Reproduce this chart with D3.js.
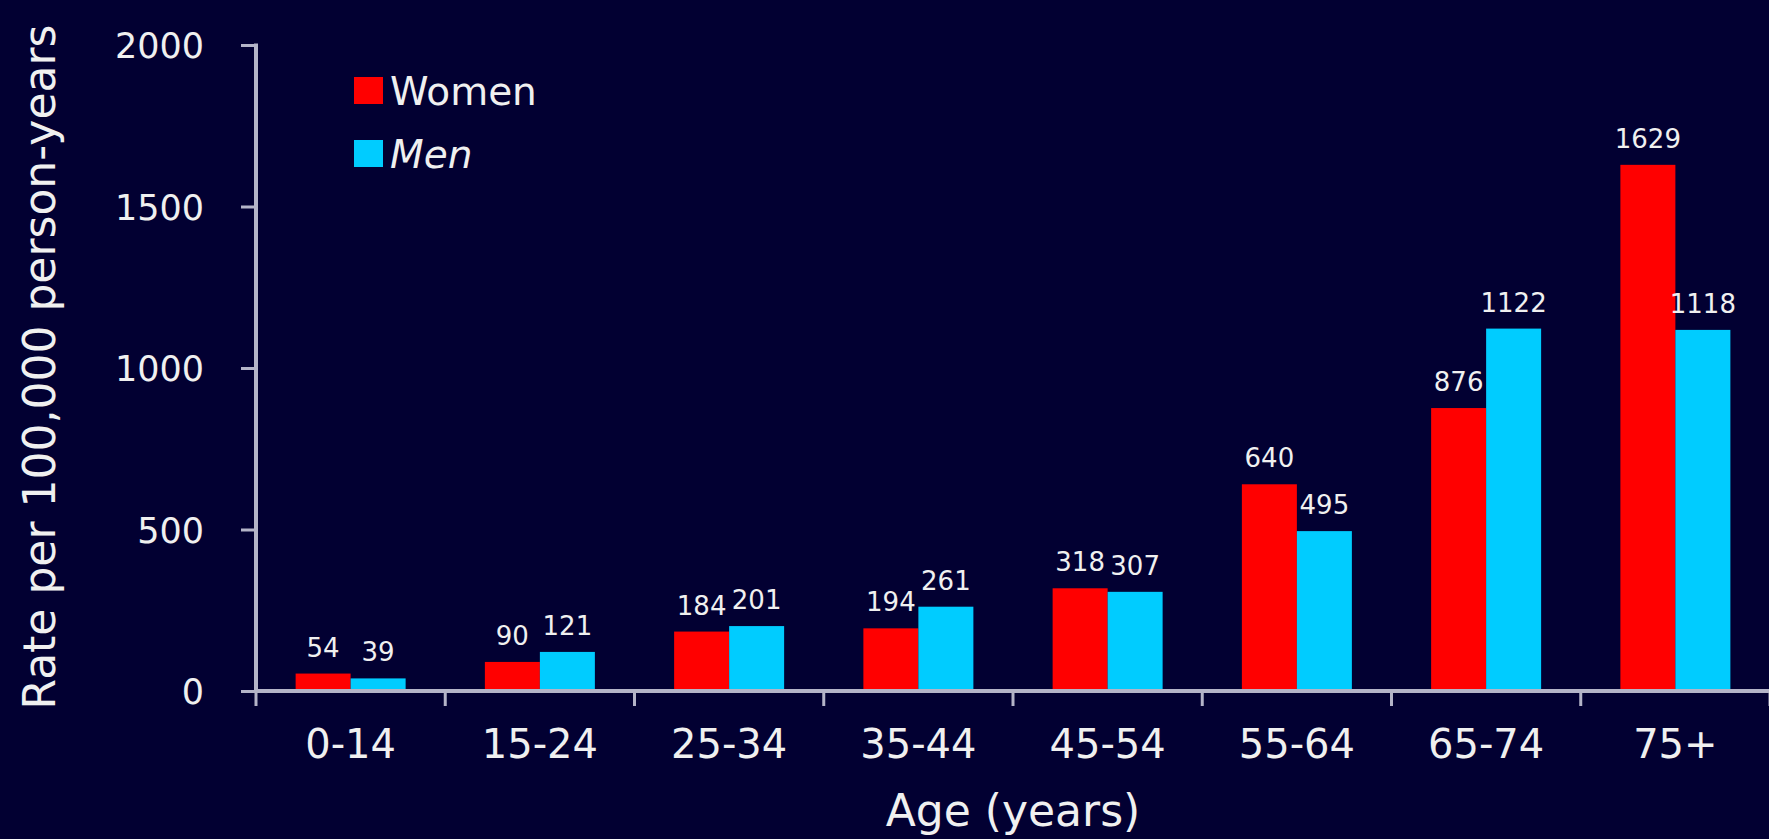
<!DOCTYPE html>
<html>
<head>
<meta charset="utf-8">
<script src="https://cdn.jsdelivr.net/npm/d3@7"></script>
<style>
  html, body { margin: 0; padding: 0; background: #020032; overflow: hidden; }
  svg { display: block; }
</style>
</head>
<body>
<svg id="chart" width="1769" height="839"></svg>
<script>
const categories = ["0-14", "15-24", "25-34", "35-44", "45-54", "55-64", "65-74", "75+"];
const women = [54, 90, 184, 194, 318, 640, 876, 1629];
const men = [39, 121, 201, 261, 307, 495, 1122, 1118];
const yTicks = [0, 500, 1000, 1500, 2000];
const seriesNames = ["Women", "Men"];
const seriesColors = ["#ff0000", "#00ccff"];

(function () {
  const W = 1769, H = 839;
  const svg = d3.select("#chart");
  svg.append("rect").attr("width", W).attr("height", H).attr("fill", "#020032");

  const mLeft = 256, mRight = 1770, mTop = 45, mBottom = 691;
  const axisColor = "#b4b4c8";
  const textColor = "#f0f0f0";
  const font = "'DejaVu Sans', Verdana, sans-serif";

  const x = d3.scaleBand().domain(categories).range([mLeft, mRight]).padding(0);
  const y = d3.scaleLinear().domain([0, 2000]).range([mBottom, mTop]);
  const barW = 55;

  const series = [women, men];
  series.forEach((vals, si) => {
    svg.append("g").selectAll("rect").data(categories).join("rect")
      .attr("x", d => x(d) + x.bandwidth() / 2 + (si === 0 ? -barW : 0))
      .attr("width", barW)
      .attr("y", (d, i) => y(vals[i]))
      .attr("height", (d, i) => y(0) - y(vals[i]))
      .attr("fill", seriesColors[si]);
    svg.append("g").selectAll("text").data(categories).join("text")
      .attr("x", d => x(d) + x.bandwidth() / 2 + (si === 0 ? -barW / 2 : barW / 2))
      .attr("y", (d, i) => y(vals[i]) - 17)
      .attr("text-anchor", "middle")
      .attr("fill", textColor)
      .style("font-family", font)
      .style("font-size", "26px")
      .text((d, i) => vals[i]);
  });

  // y axis
  const yAxis = d3.axisLeft(y).tickValues(yTicks).tickSize(15).tickSizeOuter(0).tickPadding(37)
    .tickFormat(d3.format("d"));
  const gy = svg.append("g").attr("transform", `translate(${mLeft},0)`).call(yAxis);
  gy.select(".domain").remove();
  gy.selectAll(".tick line").attr("stroke", axisColor).attr("stroke-width", 3);
  gy.selectAll(".tick text").attr("fill", textColor)
    .style("font-family", font).style("font-size", "35px").attr("dy", "0.36em");

  // x axis baseline and boundary ticks
  svg.append("line").attr("x1", mLeft).attr("x2", mRight).attr("y1", y(0)).attr("y2", y(0))
    .attr("stroke", axisColor).attr("stroke-width", 4);
  svg.append("line").attr("x1", mLeft).attr("x2", mLeft).attr("y1", y(2000) - 1.5).attr("y2", y(0))
    .attr("stroke", axisColor).attr("stroke-width", 4);
  const boundaries = categories.map(c => x(c)).concat([x(categories[categories.length - 1]) + x.bandwidth()]);
  svg.append("g").selectAll("line").data(boundaries).join("line")
    .attr("x1", d => d).attr("x2", d => d).attr("y1", y(0)).attr("y2", y(0) + 15)
    .attr("stroke", axisColor).attr("stroke-width", 3);
  svg.append("g").selectAll("text").data(categories).join("text")
    .attr("x", d => x(d) + x.bandwidth() / 2)
    .attr("y", 758)
    .attr("text-anchor", "middle")
    .attr("fill", textColor)
    .style("font-family", font).style("font-size", "40px")
    .text(d => d);

  // axis titles
  svg.append("text").attr("x", (mLeft + mRight) / 2).attr("y", 826)
    .attr("text-anchor", "middle").attr("fill", textColor)
    .style("font-family", font).style("font-size", "44px")
    .text("Age (years)");
  svg.append("text").attr("transform", "translate(55,367) rotate(-90)")
    .attr("text-anchor", "middle").attr("fill", textColor)
    .style("font-family", font).style("font-size", "44px")
    .text("Rate per 100,000 person-years");

  // legend
  const legend = svg.append("g").selectAll("g").data(seriesNames).join("g")
    .attr("transform", (d, i) => `translate(354,${77 + i * 63})`);
  legend.append("rect").attr("width", 29).attr("height", 27).attr("fill", (d, i) => seriesColors[i]);
  legend.append("text").attr("x", 36).attr("y", 28).attr("fill", textColor)
    .style("font-family", font).style("font-size", "39px")
    .style("font-style", (d, i) => i === 1 ? "italic" : "normal")
    .text(d => d);
})();
</script>
</body>
</html>
